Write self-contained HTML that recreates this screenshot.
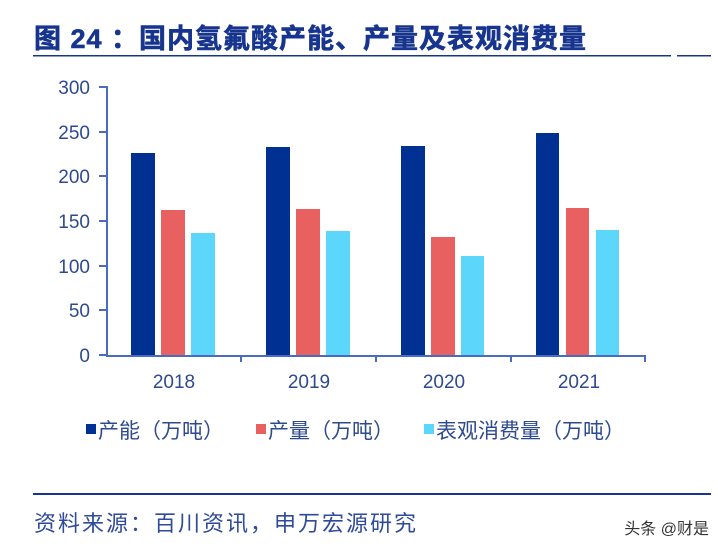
<!DOCTYPE html>
<html><head><meta charset="utf-8"><style>
body{margin:0;width:718px;height:552px;background:#fff;overflow:hidden;font-family:"Liberation Sans","Noto Sans CJK SC",sans-serif}
</style></head><body>
<svg width="718" height="552" xmlns="http://www.w3.org/2000/svg" style="position:absolute;left:0;top:0">
<text x="34" y="48" font-size="27" font-weight="bold" fill="#17358f" stroke="#17358f" stroke-width="0.6" letter-spacing="1" font-family="Liberation Sans,Noto Sans CJK SC,sans-serif">图 24 ：国内氢氟酸产能、产量及表观消费量</text>
<rect x="33" y="55" width="638" height="1.5" fill="#17358f"/>
<rect x="677" y="55" width="34" height="1.5" fill="#17358f"/>
<g font-size="19" fill="#2e4a8f" text-anchor="end">
<text x="90" y="94">300</text><text x="90" y="139">250</text><text x="90" y="183">200</text>
<text x="90" y="228">150</text><text x="90" y="273">100</text><text x="90" y="317">50</text><text x="90" y="362">0</text>
</g>
<g stroke="#4a6cc0" stroke-width="2" fill="none">
<path d="M99 87H107V356H645"/>
<path d="M99 132H107M99 176H107M99 221H107M99 266H107M99 310H107M99 355H107"/>
<path d="M241 355V362M376 355V362M511 355V362M645 355V362"/>
</g>
<g fill="#003092">
<rect x="131" y="153" width="24" height="202"/><rect x="266" y="147" width="24" height="208"/>
<rect x="401" y="146" width="24" height="209"/><rect x="536" y="133" width="23" height="222"/>
</g>
<g fill="#e86060">
<rect x="161" y="210" width="24" height="145"/><rect x="296" y="209" width="24" height="146"/>
<rect x="431" y="237" width="24" height="118"/><rect x="566" y="208" width="23" height="147"/>
</g>
<g fill="#5dd6fc">
<rect x="191" y="233" width="24" height="122"/><rect x="326" y="231" width="24" height="124"/>
<rect x="461" y="256" width="23" height="99"/><rect x="596" y="230" width="23" height="125"/>
</g>
<g font-size="19" fill="#2e4a8f" text-anchor="middle">
<text x="174" y="388">2018</text><text x="309" y="388">2019</text><text x="444" y="388">2020</text><text x="579" y="388">2021</text>
</g>
<g font-size="21" fill="#2e4a8f">
<rect x="86" y="424" width="10" height="10" fill="#003092"/><text x="98" y="438">产能（万吨）</text>
<rect x="256" y="424" width="10" height="10" fill="#e86060"/><text x="268" y="438">产量（万吨）</text>
<rect x="424" y="424" width="10" height="10" fill="#5dd6fc"/><text x="436" y="438">表观消费量（万吨）</text>
</g>
<rect x="33" y="493" width="678" height="2" fill="#17358f"/>
<text x="34" y="531" font-size="22" fill="#2e4a9a" letter-spacing="2">资料来源：百川资讯，申万宏源研究</text>
<text x="709" y="534" font-size="16" fill="#333" text-anchor="end">头条 @财是</text>
</svg>
</body></html>
